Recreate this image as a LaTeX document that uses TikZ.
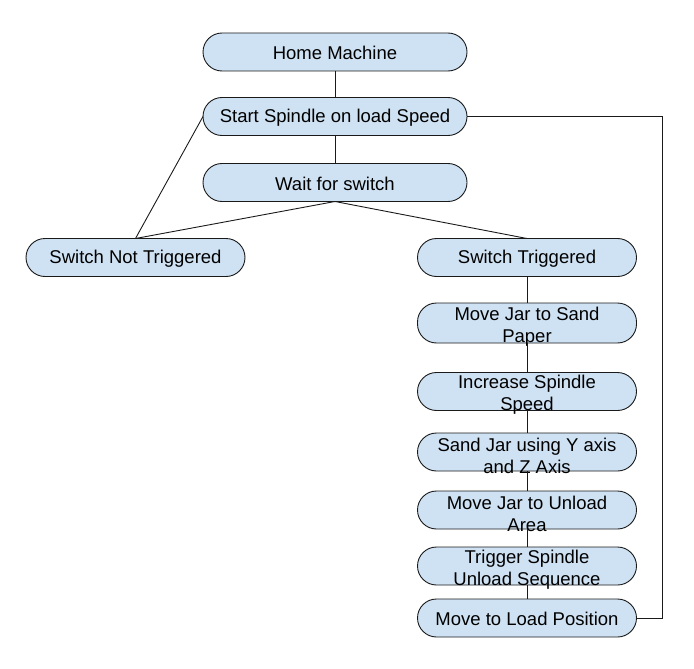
\documentclass[tikz,border=0pt]{standalone}
\usepackage{fontspec}
\setmainfont{Liberation Sans}
\definecolor{boxfill}{HTML}{CFE2F3}
\definecolor{edge}{HTML}{1A1A1A}
\begin{document}
\begin{tikzpicture}[x=1pt,y=-1pt,
  box/.style={draw=edge,fill=boxfill,line width=0.9pt,rounded corners=19pt,
    minimum height=38pt,inner sep=0pt,outer sep=0pt},
  wide/.style={box,minimum width=264pt},
  narrow/.style={box,minimum width=219pt},
  txt/.style={font=\fontsize{18.5}{22}\selectfont,align=center,inner sep=0pt,yshift=-1pt},
  txttwo/.style={txt,yshift=-2.5pt},
  conn/.style={draw=edge,line width=0.9pt}]
\useasboundingbox (0,0) rectangle (694,669);
\node[wide] (home) at (335,52) {};
\node[txt] at (home) {Home Machine};
\node[wide] (start) at (335,116.5) {};
\node[txt] at (start) {Start Spindle on load Speed};
\node[wide] (wait) at (335,182.5) {};
\node[txt] at (wait) {Wait for switch};
\node[narrow] (snt) at (135.5,257.5) {};
\node[txt] at (snt) {Switch Not Triggered};
\node[narrow] (st) at (527,257.5) {};
\node[txt] at (st) {Switch Triggered};
\node[narrow,minimum height=40pt] (mj) at (527,323) {};
\node[txttwo] at (mj) {Move Jar to Sand\\Paper};
\node[narrow] (inc) at (527,391.5) {};
\node[txttwo] at (inc) {Increase Spindle\\Speed};
\node[narrow] (sand) at (527,452) {};
\node[txttwo] at (sand) {Sand Jar using Y axis\\and Z Axis};
\node[narrow] (unl) at (527,510) {};
\node[txttwo] at (unl) {Move Jar to Unload\\Area};
\node[narrow] (trig) at (527,566) {};
\node[txttwo] at (trig) {Trigger Spindle\\Unload Sequence};
\node[narrow] (load) at (527,618) {};
\node[txt] at (load) {Move to Load Position};
\coordinate (rail) at (662,116.5);
\draw[conn] (home.south) -- (start.north);
\draw[conn] (start.south) -- (wait.north);
\draw[conn] (start.west) -- (snt.north);
\draw[conn] (wait.south) -- (snt.north);
\draw[conn] (wait.south) -- (st.north);
\draw[conn] (st.south) -- (mj.north);
\draw[conn] (mj.south) -- (inc.north);
\draw[conn] (inc.south) -- (sand.north);
\draw[conn] (sand.south) -- (unl.north);
\draw[conn] (unl.south) -- (trig.north);
\draw[conn] (trig.south) -- (load.north);
\draw[conn] (start.east) -- (rail) |- (load.east);
\end{tikzpicture}
\end{document}
